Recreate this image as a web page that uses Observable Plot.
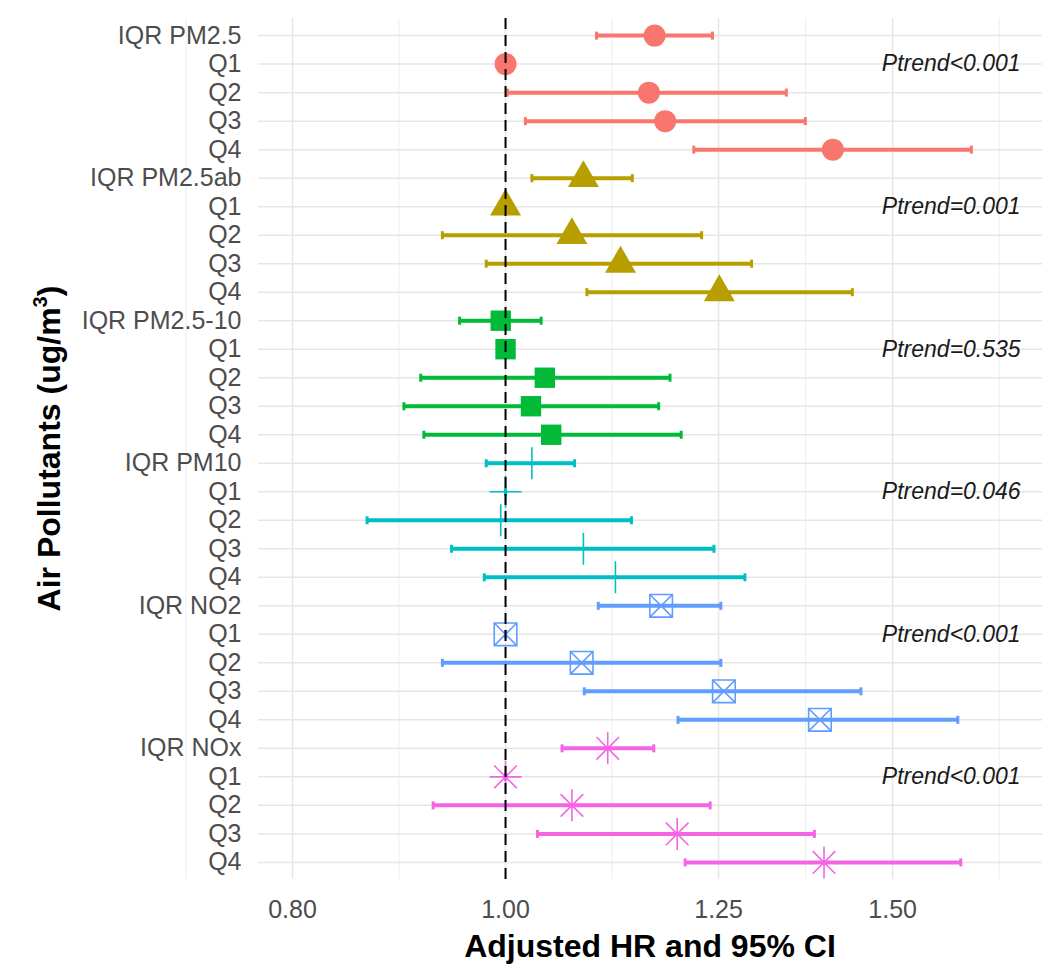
<!DOCTYPE html>
<html>
<head>
<meta charset="utf-8">
<script src="https://cdn.jsdelivr.net/npm/d3@7"></script>
<script src="https://cdn.jsdelivr.net/npm/@observablehq/plot@0.6"></script>
<style>
  body { margin: 0; background: #ffffff; }
  #chart svg { display: block; }
</style>
</head>
<body>
<div id="chart"></div>
<script>
// ---------------- data ----------------
const pollutants = ["PM2.5", "PM2.5ab", "PM2.5-10", "PM10", "NO2", "NOx"];
const levels = ["IQR", "Q1", "Q2", "Q3", "Q4"];

// hazard ratios, in row order (pollutant by pollutant, levels IQR, Q1..Q4)
const hr = [
  1.169, 1.000, 1.162, 1.182, 1.409,
  1.085, 1.000, 1.072, 1.128, 1.251,
  0.995, 1.000, 1.042, 1.027, 1.049,
  1.028, 1.000, 0.995, 1.085, 1.122,
  1.177, 1.000, 1.083, 1.257, 1.390,
  1.113, 1.000, 1.072, 1.197, 1.396
];
const lower = [
  1.100, 1.000, 1.002, 1.021, 1.218,
  1.028, 1.000, 0.936, 0.980, 1.089,
  0.953, 1.000, 0.915, 0.899, 0.918,
  0.980, 1.000, 0.865, 0.945, 0.978,
  1.102, 1.000, 0.936, 1.086, 1.198,
  1.061, 1.000, 0.927, 1.034, 1.207
];
const upper = [
  1.242, 1.000, 1.342, 1.369, 1.629,
  1.142, 1.000, 1.228, 1.294, 1.438,
  1.038, 1.000, 1.188, 1.174, 1.202,
  1.075, 1.000, 1.141, 1.244, 1.285,
  1.253, 1.000, 1.253, 1.451, 1.606,
  1.168, 1.000, 1.239, 1.382, 1.611
];
const ptrend = ["Ptrend<0.001", "Ptrend=0.001", "Ptrend=0.535", "Ptrend=0.046", "Ptrend<0.001", "Ptrend<0.001"];
const xTicks = [0.80, 1.00, 1.25, 1.50];

// ---------------- table built from the arrays ----------------
const rows = [];
pollutants.forEach((p, i) => {
  levels.forEach((l, j) => {
    const k = i * levels.length + j;
    rows.push({pollutant: p, level: l, key: p + "|" + l, hr: hr[k], lower: lower[k], upper: upper[k]});
  });
});
const keys = rows.map(d => d.key);
const labelOf = k => { const [p, l] = k.split("|"); return l === "IQR" ? "IQR " + p : l; };
const ptrendRows = pollutants.map((p, i) => ({key: p + "|Q1", text: ptrend[i]}));

// minor grid breaks: midpoints (log space) between major breaks, extended one step
const lt = xTicks.map(Math.log);
const step = lt[1] - lt[0];
const ext = [lt[0] - step, ...lt, lt[lt.length - 1] + step];
const minorTicks = d3.pairs(ext).map(([a, b]) => Math.exp((a + b) / 2));

// ---------------- symbols (ggplot shapes 16,17,15,3,7,8) ----------------
const capSym = {draw(c, size) { const r = Math.sqrt(size / Math.PI); c.moveTo(0, -r); c.lineTo(0, r); }};
const plusSym = {draw(c, size) { const r = Math.sqrt(size / Math.PI) * 1.6;
  c.moveTo(-r, 0); c.lineTo(r, 0); c.moveTo(0, -r); c.lineTo(0, r); }};
const boxCrossSym = {draw(c, size) { const r = Math.sqrt(size / Math.PI) * 1.13;
  c.moveTo(-r, -r); c.lineTo(r, -r); c.lineTo(r, r); c.lineTo(-r, r); c.closePath();
  c.moveTo(-r, -r); c.lineTo(r, r); c.moveTo(r, -r); c.lineTo(-r, r); }};
const starSym = {draw(c, size) { const r = Math.sqrt(size / Math.PI) * 1.6; const q = r / Math.SQRT2;
  c.moveTo(-r, 0); c.lineTo(r, 0); c.moveTo(0, -r); c.lineTo(0, r);
  c.moveTo(-q, -q); c.lineTo(q, q); c.moveTo(q, -q); c.lineTo(-q, q); }};

const colors = ["#F8766D", "#B79F00", "#00BA38", "#00BFC4", "#619CFF", "#F564E3"];
const shapeStyles = [
  {symbol: "circle", r: 11, filled: true},
  {symbol: "triangle", r: 11.5, filled: true},
  {symbol: "square", r: 11.5, filled: true},
  {symbol: plusSym, r: 10, filled: false},
  {symbol: boxCrossSym, r: 10, filled: false},
  {symbol: starSym, r: 10, filled: false}
];

const pointMarks = pollutants.map((p, i) => {
  const s = shapeStyles[i];
  const sub = rows.filter(d => d.pollutant === p);
  return s.filled
    ? Plot.dot(sub, {x: "hr", y: "key", symbol: s.symbol, r: s.r, fill: colors[i], stroke: "none"})
    : Plot.dot(sub, {x: "hr", y: "key", symbol: s.symbol, r: s.r, fill: "none", stroke: colors[i], strokeWidth: 1.6});
});

const W = 1050, H = 979;
const chart = Plot.plot({
  width: W,
  height: H,
  marginLeft: 258,
  marginRight: 8,
  marginTop: 18,
  marginBottom: 100,
  style: {fontFamily: "'Liberation Sans', Arial, sans-serif", fontSize: "25px", color: "#4D4D4D", background: "#ffffff"},
  x: {type: "log", domain: [0.772, 1.755]},
  y: {type: "point", domain: keys, padding: 0.6, round: false},
  color: {domain: pollutants, range: colors},
  marks: [
    Plot.ruleX(minorTicks, {stroke: "#EBEBEB", strokeWidth: 0.9}),
    Plot.ruleX(xTicks, {stroke: "#E6E6E6", strokeWidth: 1.5}),
    Plot.ruleY(keys, {stroke: "#E6E6E6", strokeWidth: 1.5}),
    Plot.ruleY(rows, {y: "key", x1: "lower", x2: "upper", stroke: "pollutant", strokeWidth: 4}),
    Plot.dot(rows, {x: "lower", y: "key", symbol: capSym, r: 4, fill: "none", stroke: "pollutant", strokeWidth: 3}),
    Plot.dot(rows, {x: "upper", y: "key", symbol: capSym, r: 4, fill: "none", stroke: "pollutant", strokeWidth: 3}),
    ...pointMarks,
    Plot.ruleX([1], {stroke: "#000000", strokeWidth: 2, strokeDasharray: "11,6"}),
    Plot.text(ptrendRows, {x: 1.595, y: "key", text: "text", fontStyle: "italic", fontSize: 23, fill: "#1a1a1a", textAnchor: "middle"}),
    Plot.axisY({tickSize: 0, tickPadding: 17, tickFormat: labelOf, fontSize: 25, label: null}),
    Plot.axisX({ticks: xTicks, tickFormat: d => d.toFixed(2), tickSize: 0, tickPadding: 21, fontSize: 25, label: null})
  ]
});

// axis titles
const svg = d3.select(chart);
svg.append("text")
  .attr("x", (258 + (W - 8)) / 2)
  .attr("y", 957)
  .attr("text-anchor", "middle")
  .attr("font-family", "'Liberation Sans', Arial, sans-serif")
  .attr("font-weight", "bold")
  .attr("font-size", 32)
  .attr("fill", "#000")
  .text("Adjusted HR and 95% CI");

const yt = svg.append("text")
  .attr("transform", `translate(60, ${(18 + (H - 100)) / 2}) rotate(-90)`)
  .attr("text-anchor", "middle")
  .attr("font-family", "'Liberation Sans', Arial, sans-serif")
  .attr("font-weight", "bold")
  .attr("font-size", 32)
  .attr("fill", "#000");
yt.append("tspan").text("Air Pollutants (ug/m");
yt.append("tspan").attr("font-size", 20).attr("dy", -13).text("3");
yt.append("tspan").attr("dy", 13).text(")");

document.getElementById("chart").appendChild(chart);
</script>
</body>
</html>
